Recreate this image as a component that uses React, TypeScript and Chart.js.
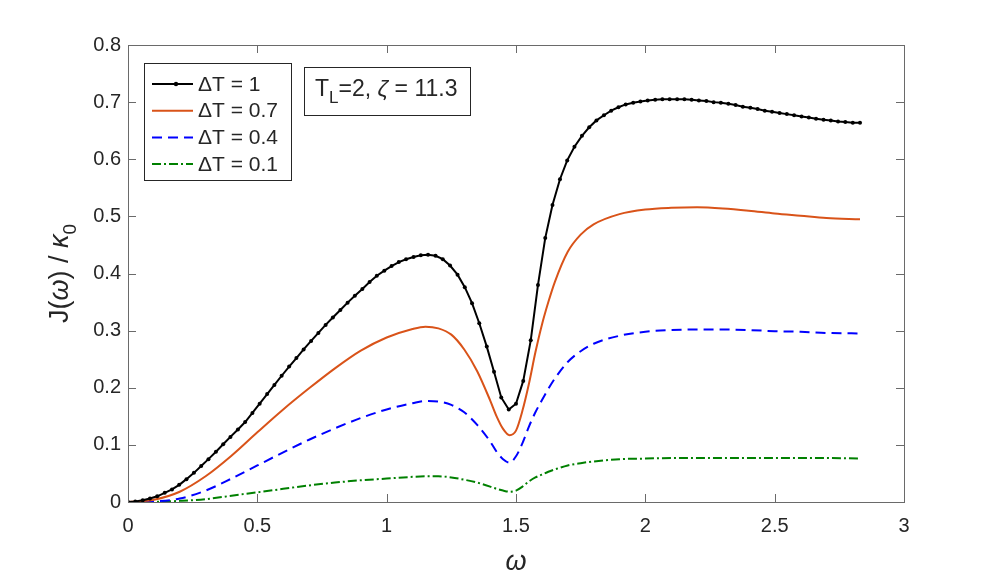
import React, { useEffect, useRef } from "react";
import { Chart, registerables } from "chart.js";

Chart.register(...registerables);

// ---- data ----
const seriesLabels = ["ΔT = 1", "ΔT = 0.7", "ΔT = 0.4", "ΔT = 0.1"];

const blackX = [
  0, 0.028, 0.057, 0.085, 0.113, 0.142, 0.17, 0.198, 0.226, 0.255,
  0.283, 0.311, 0.34, 0.368, 0.396, 0.425, 0.453, 0.481, 0.509, 0.538,
  0.566, 0.594, 0.623, 0.651, 0.679, 0.708, 0.736, 0.764, 0.792, 0.821,
  0.849, 0.877, 0.906, 0.934, 0.962, 0.991, 1.019, 1.047, 1.075, 1.104,
  1.132, 1.16, 1.189, 1.217, 1.245, 1.274, 1.302, 1.33, 1.358, 1.387,
  1.415, 1.443, 1.472, 1.5, 1.528, 1.557, 1.585, 1.613, 1.641, 1.67,
  1.698, 1.726, 1.755, 1.783, 1.811, 1.84, 1.868, 1.896, 1.924, 1.953,
  1.981, 2.009, 2.038, 2.066, 2.094, 2.123, 2.151, 2.179, 2.207, 2.236,
  2.264, 2.292, 2.321, 2.349, 2.377, 2.406, 2.434, 2.462, 2.49, 2.519,
  2.547, 2.575, 2.604, 2.632, 2.66, 2.689, 2.717, 2.745, 2.773, 2.802,
  2.83,
];
const blackY = [
  0, 0.001, 0.003, 0.006, 0.01, 0.016, 0.022, 0.03, 0.04, 0.051,
  0.063, 0.075, 0.088, 0.101, 0.114, 0.127, 0.14, 0.156, 0.172, 0.189,
  0.205, 0.221, 0.237, 0.252, 0.267, 0.282, 0.296, 0.31, 0.323, 0.336,
  0.349, 0.361, 0.373, 0.385, 0.396, 0.405, 0.413, 0.42, 0.425, 0.429,
  0.432, 0.433, 0.431, 0.425, 0.414, 0.398, 0.376, 0.348, 0.313, 0.272,
  0.228, 0.183, 0.162, 0.172, 0.212, 0.283, 0.38, 0.462, 0.52, 0.565,
  0.598, 0.622, 0.641, 0.656, 0.668, 0.677, 0.685, 0.691, 0.696, 0.699,
  0.701, 0.703, 0.704, 0.705, 0.705, 0.705, 0.705, 0.704, 0.703, 0.702,
  0.7, 0.699, 0.697, 0.695, 0.692, 0.69, 0.688, 0.685, 0.683, 0.681,
  0.679, 0.677, 0.675, 0.673, 0.671, 0.669, 0.668, 0.666, 0.665, 0.664,
  0.664,
];

const smoothX = [
  0, 0.1, 0.2, 0.3, 0.4, 0.5, 0.6, 0.7, 0.8, 0.9,
  1.0, 1.1, 1.15, 1.2, 1.25, 1.3, 1.35, 1.4, 1.425, 1.45,
  1.475, 1.5, 1.525, 1.55, 1.575, 1.6, 1.625, 1.65, 1.7, 1.75,
  1.8, 1.9, 2.0, 2.1, 2.2, 2.3, 2.4, 2.5, 2.6, 2.7,
  2.83,
];
const orangeY = [
  0, 0.004, 0.018, 0.045, 0.081, 0.122, 0.162, 0.199, 0.234, 0.265,
  0.288, 0.303, 0.307, 0.304, 0.293, 0.267, 0.229, 0.178, 0.15, 0.128,
  0.117, 0.125, 0.16, 0.207, 0.262, 0.31, 0.35, 0.385, 0.438, 0.468,
  0.486, 0.504, 0.512, 0.515, 0.516, 0.514, 0.51, 0.505, 0.501, 0.497,
  0.495,
];
const blueY = [
  0, 0.001, 0.006, 0.02, 0.041, 0.064, 0.087, 0.109, 0.129, 0.147,
  0.162, 0.173, 0.177, 0.176, 0.17, 0.157, 0.135, 0.106, 0.088, 0.075,
  0.069, 0.08, 0.103, 0.132, 0.157, 0.178, 0.198, 0.216, 0.245, 0.264,
  0.277, 0.291, 0.298, 0.301, 0.302, 0.302, 0.301, 0.299, 0.298, 0.296,
  0.295,
];
const greenY = [
  0, 0.0003, 0.002, 0.005, 0.011, 0.017, 0.023, 0.029, 0.034, 0.038,
  0.041, 0.044, 0.045, 0.045, 0.043, 0.039, 0.034, 0.027, 0.023, 0.02,
  0.018, 0.02, 0.027, 0.036, 0.043, 0.048, 0.053, 0.057, 0.064, 0.068,
  0.071, 0.075, 0.076, 0.077, 0.077, 0.077, 0.077, 0.077, 0.077, 0.077,
  0.076,
];

const xTicks = [0, 0.5, 1, 1.5, 2, 2.5, 3];
const xTickLabels = ["0", "0.5", "1", "1.5", "2", "2.5", "3"];
const yTicks = [0, 0.1, 0.2, 0.3, 0.4, 0.5, 0.6, 0.7, 0.8];
const yTickLabels = ["0", "0.1", "0.2", "0.3", "0.4", "0.5", "0.6", "0.7", "0.8"];

const FONT = '"Liberation Sans", Arial, Helvetica, sans-serif';
const TEXT = "#262626";
const AXIS = "#6a6a6a";

type Part = { t: string; italic?: boolean; sub?: boolean };

function drawParts(ctx: CanvasRenderingContext2D, parts: Part[], x: number, y: number, size: number, center: boolean) {
  const fontOf = (p: Part) =>
    `${p.italic ? "italic " : ""}${p.sub ? Math.round(size * 0.72) : size}px ${FONT}`;
  let total = 0;
  for (const p of parts) {
    ctx.font = fontOf(p);
    total += ctx.measureText(p.t).width;
  }
  let cx = center ? x - total / 2 : x;
  for (const p of parts) {
    ctx.font = fontOf(p);
    ctx.fillText(p.t, cx, p.sub ? y + size * 0.3 : y);
    cx += ctx.measureText(p.t).width;
  }
}

const decorPlugin = {
  id: "decor",
  afterDraw(chart: any) {
    const ctx: CanvasRenderingContext2D = chart.ctx;
    const { left, right, top, bottom } = chart.chartArea;
    const xs = chart.scales.x;
    const ys = chart.scales.y;
    ctx.save();
    // box
    ctx.strokeStyle = AXIS;
    ctx.lineWidth = 1;
    ctx.setLineDash([]);
    ctx.strokeRect(Math.round(left) + 0.5, Math.round(top) + 0.5, Math.round(right - left), Math.round(bottom - top));
    // ticks (inward, all four sides)
    const tl = 8;
    ctx.beginPath();
    for (const v of xTicks) {
      const px = Math.round(xs.getPixelForValue(v)) + 0.5;
      ctx.moveTo(px, bottom);
      ctx.lineTo(px, bottom - tl);
      ctx.moveTo(px, top);
      ctx.lineTo(px, top + tl);
    }
    for (const v of yTicks) {
      const py = Math.round(ys.getPixelForValue(v)) + 0.5;
      ctx.moveTo(left, py);
      ctx.lineTo(left + tl, py);
      ctx.moveTo(right, py);
      ctx.lineTo(right - tl, py);
    }
    ctx.stroke();

    // legend
    const lx = left + 16;
    const ly = top + 18;
    const lw = 147;
    const lh = 117;
    ctx.fillStyle = "#ffffff";
    ctx.fillRect(lx, ly, lw, lh);
    ctx.strokeStyle = "#262626";
    ctx.lineWidth = 1;
    ctx.strokeRect(Math.round(lx) + 0.5, Math.round(ly) + 0.5, lw, lh);
    chart.data.datasets.forEach((ds: any, i: number) => {
      const ry = ly + 21 + i * 26.7;
      ctx.save();
      ctx.strokeStyle = ds.borderColor;
      ctx.lineWidth = ds.borderWidth;
      ctx.setLineDash(ds.borderDash || []);
      ctx.beginPath();
      ctx.moveTo(lx + 8, ry);
      ctx.lineTo(lx + 49, ry);
      ctx.stroke();
      if (ds.pointRadius > 0) {
        ctx.fillStyle = ds.borderColor;
        ctx.beginPath();
        ctx.arc(lx + 32, ry, 2.2, 0, Math.PI * 2);
        ctx.fill();
      }
      ctx.restore();
      ctx.fillStyle = TEXT;
      ctx.textBaseline = "middle";
      ctx.font = `21px ${FONT}`;
      ctx.fillText(ds.label, lx + 54, ry + 1);
    });

    // annotation
    const ax = 304;
    const ay = 67;
    ctx.fillStyle = "#ffffff";
    ctx.fillRect(ax, ay, 166, 48);
    ctx.strokeStyle = "#262626";
    ctx.strokeRect(ax + 0.5, ay + 0.5, 166, 48);
    ctx.fillStyle = TEXT;
    ctx.textBaseline = "alphabetic";
    drawParts(
      ctx,
      [{ t: "T" }, { t: "L", sub: true }, { t: "=2, " }, { t: "ζ", italic: true }, { t: " = 11.3" }],
      ax + 11,
      ay + 29,
      23,
      false
    );

    // axis titles
    ctx.fillStyle = TEXT;
    drawParts(ctx, [{ t: "ω", italic: true }], (left + right) / 2, 570, 27, true);
    ctx.save();
    ctx.translate(68, (top + bottom) / 2);
    ctx.rotate(-Math.PI / 2);
    drawParts(
      ctx,
      [{ t: "J(" }, { t: "ω", italic: true }, { t: ") / " }, { t: "κ", italic: true }, { t: "0", sub: true }],
      0,
      0,
      27,
      true
    );
    ctx.restore();
    ctx.restore();
  },
};

export default function App() {
  const ref = useRef<HTMLCanvasElement | null>(null);
  useEffect(() => {
    if (!ref.current) return;
    const pts = (xs: number[], ys: number[]) => xs.map((x, i) => ({ x, y: ys[i] }));
    const chart = new Chart(ref.current, {
      type: "line",
      data: {
        datasets: [
          {
            label: seriesLabels[0],
            data: pts(blackX, blackY),
            borderColor: "#000000",
            backgroundColor: "#000000",
            borderWidth: 2,
            pointRadius: 2,
            pointHoverRadius: 2,
            pointBorderWidth: 0,
            tension: 0,
          },
          {
            label: seriesLabels[1],
            data: pts(smoothX, orangeY),
            borderColor: "#D95319",
            borderWidth: 2,
            pointRadius: 0,
            cubicInterpolationMode: "monotone",
          },
          {
            label: seriesLabels[2],
            data: pts(smoothX, blueY),
            borderColor: "#0000FF",
            borderWidth: 2,
            borderDash: [10, 6],
            pointRadius: 0,
            cubicInterpolationMode: "monotone",
          },
          {
            label: seriesLabels[3],
            data: pts(smoothX, greenY),
            borderColor: "#008000",
            borderWidth: 2,
            borderDash: [9, 3, 2, 3],
            pointRadius: 0,
            cubicInterpolationMode: "monotone",
          },
        ],
      },
      options: {
        responsive: false,
        animation: false,
        events: [],
        layout: { padding: { left: 0, right: 92, top: 45, bottom: 0 } },
        plugins: { legend: { display: false }, tooltip: { enabled: false } },
        scales: {
          x: {
            type: "linear",
            min: 0,
            max: 3,
            grid: { display: false, drawTicks: false },
            border: { display: false },
            afterBuildTicks: (s: any) => {
              s.ticks = xTicks.map((v) => ({ value: v }));
            },
            afterFit: (s: any) => {
              s.height = 76;
            },
            ticks: {
              padding: 12,
              color: TEXT,
              font: { family: FONT, size: 20 },
              maxRotation: 0,
              callback: (_v: any, i: number) => xTickLabels[i],
            },
          },
          y: {
            type: "linear",
            min: 0,
            max: 0.8,
            grid: { display: false, drawTicks: false },
            border: { display: false },
            afterBuildTicks: (s: any) => {
              s.ticks = yTicks.map((v) => ({ value: v }));
            },
            afterFit: (s: any) => {
              s.width = 128;
            },
            ticks: {
              padding: 7,
              color: TEXT,
              font: { family: FONT, size: 20 },
              callback: (_v: any, i: number) => yTickLabels[i],
            },
          },
        },
      } as any,
      plugins: [decorPlugin],
    });
    return () => chart.destroy();
  }, []);
  return (
    <div style={{ position: "absolute", left: 0, top: 0, width: 996, height: 578, background: "#fff" }}>
      <canvas ref={ref} width={996} height={578} />
    </div>
  );
}
